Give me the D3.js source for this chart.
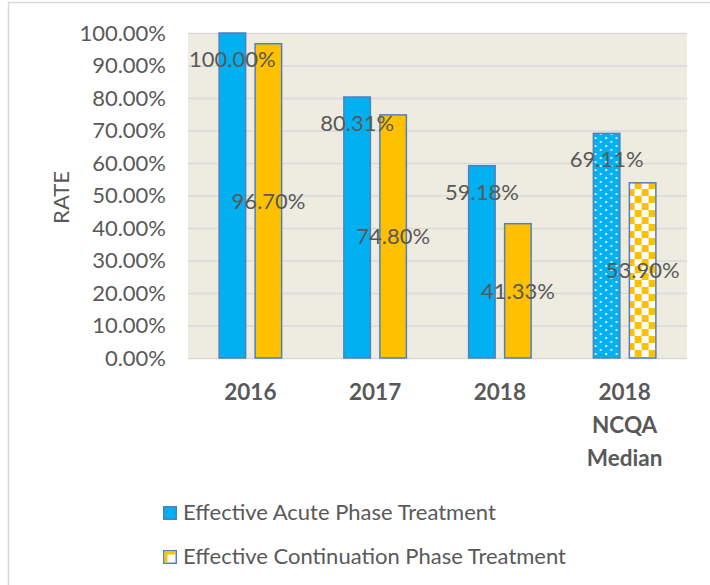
<!DOCTYPE html>
<html>
<head>
<meta charset="utf-8">
<script src="https://cdn.jsdelivr.net/npm/d3@7"></script>
<style>
  html, body { margin: 0; padding: 0; background: #fff; }
  text { font-family: Lato, "Open Sans", sans-serif; fill: #595959; }
</style>
</head>
<body>
<svg id="chart" width="710" height="585"></svg>
<script>
const categories = ['2016', '2017', '2018', '2018 NCQA Median'];
const acute = [100.00, 80.31, 59.18, 69.11];
const continuation = [96.70, 74.80, 41.33, 53.90];
const seriesNames = ['Effective Acute Phase Treatment', 'Effective Continuation Phase Treatment'];
const yTicks = [0, 10, 20, 30, 40, 50, 60, 70, 80, 90, 100];

const blue = '#00B0F0';
const orange = '#FFC000';
const edge = '#4F81BD';

const svg = d3.select('#chart');
const plot = { left: 188, right: 687, top: 33, bottom: 358 };

// outer chart border (cut at the right/bottom of the picture)
svg.append('rect')
  .attr('x', 8.5).attr('y', 2.5)
  .attr('width', 720).attr('height', 600)
  .attr('fill', 'none').attr('stroke', '#D9D9D9').attr('stroke-width', 1.5);

const defs = svg.append('defs');
const dots = defs.append('pattern')
  .attr('id', 'dots').attr('patternUnits', 'userSpaceOnUse')
  .attr('width', 10.5).attr('height', 8);
dots.append('rect').attr('width', 10.5).attr('height', 8).attr('fill', blue);
dots.append('circle').attr('cx', 3).attr('cy', 2).attr('r', 1.1).attr('fill', '#fff');
dots.append('circle').attr('cx', 8.2).attr('cy', 6).attr('r', 1.1).attr('fill', '#fff');

const cs = 7; // checker square size
const checks = defs.append('pattern')
  .attr('id', 'checks').attr('patternUnits', 'userSpaceOnUse')
  .attr('width', cs * 2).attr('height', cs * 2);
checks.append('rect').attr('width', cs * 2).attr('height', cs * 2).attr('fill', '#fff');
checks.append('rect').attr('width', cs).attr('height', cs).attr('fill', orange);
checks.append('rect').attr('x', cs).attr('y', cs).attr('width', cs).attr('height', cs).attr('fill', orange);

const y = d3.scaleLinear().domain([0, 100]).range([plot.bottom, plot.top]);
const x0 = d3.scaleBand().domain(categories).range([plot.left, plot.right]);
const x1 = d3.scaleBand().domain([0, 1]).range([0, 64]).paddingInner(2 - 64 / 36);
const groupStart = c => x0(c) + (x0.bandwidth() - 64) / 2;

svg.append('rect')
  .attr('x', plot.left).attr('y', plot.top)
  .attr('width', plot.right - plot.left).attr('height', plot.bottom - plot.top)
  .attr('fill', '#EEECE1');

svg.append('g').selectAll('line').data(yTicks).join('line')
  .attr('x1', plot.left).attr('x2', plot.right)
  .attr('y1', d => y(d) + 0.5).attr('y2', d => y(d) + 0.5)
  .attr('stroke', '#D9D9D9').attr('stroke-width', 1.5);

svg.append('g').selectAll('text').data(yTicks).join('text')
  .attr('x', 166).attr('y', d => y(d))
  .attr('dy', '0.36em').attr('text-anchor', 'end')
  .attr('font-size', 22)
  .text(d => d.toFixed(2) + '%');

svg.append('text')
  .attr('transform', `translate(69,${(plot.top + plot.bottom) / 2 + 2}) rotate(-90)`)
  .attr('text-anchor', 'middle').attr('font-size', 22)
  .text('RATE');

const last = categories.length - 1;
const rows = categories.map((c, i) => ({ c, i, vals: [acute[i], continuation[i]] }));

const groups = svg.append('g').selectAll('g').data(rows).join('g')
  .attr('transform', d => `translate(${groupStart(d.c)},0)`);

groups.selectAll('rect').data(d => d.vals.map((v, s) => ({ v, s, i: d.i }))).join('rect')
  .attr('x', d => x1(d.s) + 0.75)
  .attr('y', d => y(d.v))
  .attr('width', x1.bandwidth() - 1.5)
  .attr('height', d => y(0) - y(d.v))
  .attr('fill', d => d.i === last ? (d.s === 0 ? 'url(#dots)' : 'url(#checks)') : (d.s === 0 ? blue : orange))
  .attr('stroke', edge).attr('stroke-width', 1.5);

// data labels: acute inside end, continuation centered
groups.selectAll('text').data(d => d.vals.map((v, s) => ({ v, s }))).join('text')
  .attr('x', d => x1(d.s) + x1.bandwidth() / 2)
  .attr('y', d => d.s === 0 ? y(d.v) + 26 : (y(d.v) + y(0)) / 2)
  .attr('dy', '0.36em').attr('text-anchor', 'middle')
  .attr('font-size', 22)
  .text(d => d.v.toFixed(2) + '%');

// category labels, wrapped
svg.append('g').selectAll('text').data(categories).join('text')
  .attr('x', d => x0(d) + x0.bandwidth() / 2)
  .attr('y', 400)
  .attr('text-anchor', 'middle')
  .attr('font-size', 22.5).attr('font-weight', 'bold')
  .each(function(d) {
    const parts = d.startsWith('2018 ') ? ['2018', 'NCQA', 'Median'] : [d];
    d3.select(this).selectAll('tspan').data(parts).join('tspan')
      .attr('x', x0(d) + x0.bandwidth() / 2)
      .attr('dy', (p, k) => k === 0 ? 0 : 33)
      .text(p => p);
  });

// legend
const legend = svg.append('g').selectAll('g').data(seriesNames).join('g')
  .attr('transform', (d, i) => `translate(163,${506 + i * 44})`);
legend.append('rect')
  .attr('x', 0.75).attr('y', 0.75).attr('width', 12.5).attr('height', 12.5)
  .attr('fill', (d, i) => i === 0 ? blue : '#fff')
  .attr('stroke', edge).attr('stroke-width', 1.5);
legend.filter((d, i) => i === 1).append('path')
  .attr('d', 'M1.5,12.5 V1.5 H12.5 V4.5 H4.5 V12.5 Z')
  .attr('fill', orange);
legend.append('text')
  .attr('x', 20).attr('y', 14)
  .attr('font-size', 22)
  .text(d => d);
</script>
</body>
</html>
